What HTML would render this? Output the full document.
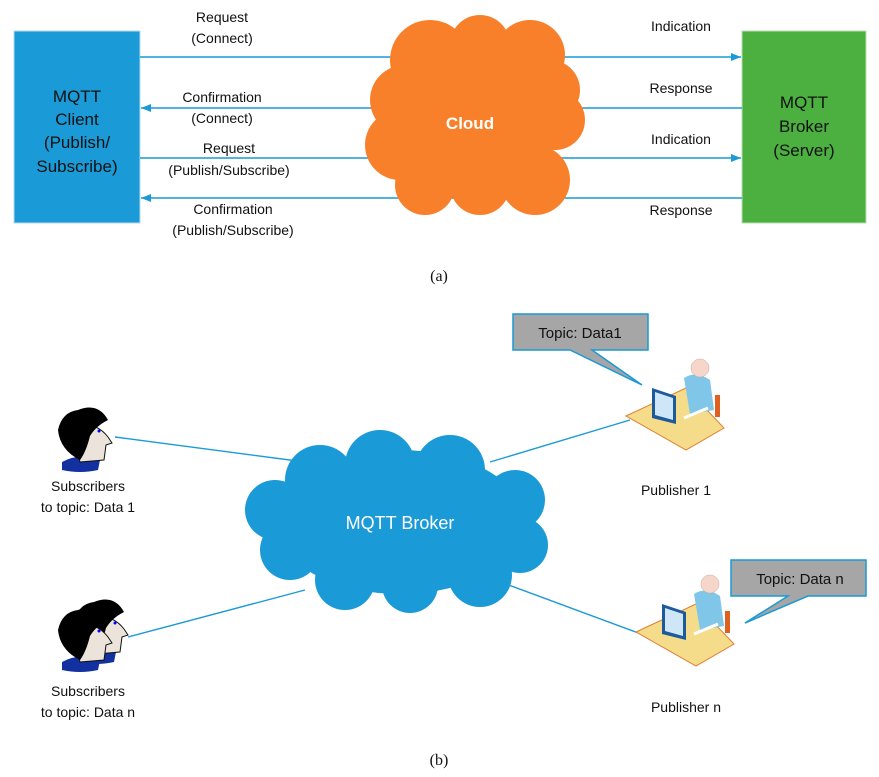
<!DOCTYPE html>
<html><head><meta charset="utf-8"><style>
html,body{margin:0;padding:0;background:#fff}
svg{display:block}
text{font-family:"Liberation Sans",sans-serif;font-size:14px;fill:#111}
</style></head><body>
<svg width="879" height="777" viewBox="0 0 879 777" xmlns="http://www.w3.org/2000/svg">
<defs>
<marker id="ah" markerWidth="10" markerHeight="8" refX="10" refY="4" orient="auto" markerUnits="userSpaceOnUse">
<path d="M0,0 L10,4 L0,8 Z" fill="#1a9ad6"/></marker>
</defs>
<!-- (a) -->
<rect x="14" y="31" width="126" height="192" fill="#1a9ad6" stroke="#b8d8ea" stroke-width="1"/>
<rect x="742" y="31" width="124" height="192" fill="#4cb040" stroke="#b8dcb0" stroke-width="1"/>
<g stroke="#1a9ad6" stroke-width="1.6" fill="none">
<line x1="140" y1="57" x2="741" y2="57" marker-end="url(#ah)"/>
<line x1="742" y1="108" x2="141" y2="108" marker-end="url(#ah)"/>
<line x1="140" y1="158" x2="741" y2="158" marker-end="url(#ah)"/>
<line x1="742" y1="198" x2="141" y2="198" marker-end="url(#ah)"/>
</g>
<g fill="#f8802a">
<ellipse cx="475" cy="115" rx="85" ry="85"/>
<circle cx="430" cy="60" r="40"/><circle cx="480" cy="45" r="30"/><circle cx="530" cy="55" r="35"/>
<circle cx="405" cy="100" r="35"/><circle cx="400" cy="145" r="35"/><circle cx="425" cy="185" r="30"/>
<circle cx="480" cy="185" r="30"/><circle cx="535" cy="180" r="35"/><circle cx="555" cy="120" r="30"/>
<circle cx="550" cy="90" r="30"/>
</g>
<text x="470" y="129" text-anchor="middle" style="fill:#fff;font-size:17px;font-weight:bold">Cloud</text>
<g text-anchor="middle" style="fill:#111;font-size:17px">
<text x="77" y="102" style="font-size:17px">MQTT</text>
<text x="77" y="125" style="font-size:17px">Client</text>
<text x="77" y="148" style="font-size:17px">(Publish/</text>
<text x="77" y="172" style="font-size:17px">Subscribe)</text>
<text x="804" y="108" style="font-size:17px">MQTT</text>
<text x="804" y="132" style="font-size:17px">Broker</text>
<text x="804" y="156" style="font-size:17px">(Server)</text>
</g>
<g text-anchor="middle">
<text x="222" y="22">Request</text><text x="222" y="43">(Connect)</text>
<text x="222" y="102">Confirmation</text><text x="222" y="123">(Connect)</text>
<text x="229" y="153">Request</text><text x="229" y="175">(Publish/Subscribe)</text>
<text x="233" y="214">Confirmation</text><text x="233" y="235">(Publish/Subscribe)</text>
<text x="681" y="31">Indication</text><text x="681" y="93">Response</text>
<text x="681" y="144">Indication</text><text x="681" y="215">Response</text>
</g>
<text x="439" y="281" text-anchor="middle" style="font-family:'Liberation Serif',serif;font-size:16px">(a)</text>
<!-- (b) -->
<g stroke="#1a9ad6" stroke-width="1.4">
<line x1="115" y1="437" x2="305" y2="462"/>
<line x1="128" y1="637" x2="305" y2="590"/>
<line x1="490" y1="462" x2="630" y2="420"/>
<line x1="495" y1="580" x2="660" y2="641"/>
</g>
<g fill="#1a9ad6">
<ellipse cx="400" cy="522" rx="125" ry="72"/>
<circle cx="320" cy="480" r="35"/><circle cx="380" cy="465" r="35"/><circle cx="450" cy="470" r="35"/>
<circle cx="275" cy="510" r="30"/><circle cx="290" cy="550" r="30"/><circle cx="345" cy="580" r="30"/>
<circle cx="410" cy="585" r="28"/><circle cx="480" cy="575" r="32"/><circle cx="520" cy="545" r="28"/>
<circle cx="515" cy="500" r="30"/>
</g>
<text x="400" y="529" text-anchor="middle" style="fill:#fff;font-size:18px">MQTT Broker</text>
<!-- callouts -->
<path d="M513,314 H648 V350 H592 L642,385 L570,350 H513 Z" fill="#a6a6a6" stroke="#1a9ad6" stroke-width="1.5"/>
<text x="580" y="338" text-anchor="middle" style="font-size:15px">Topic: Data1</text>
<path d="M731,560 H866 V596 H808 L745,623 L788,596 H731 Z" fill="#a6a6a6" stroke="#1a9ad6" stroke-width="1.5"/>
<text x="800" y="584" text-anchor="middle" style="font-size:15px">Topic: Data n</text>
<!-- publishers -->
<g id="pub">
<path d="M626,416 L686,388 L724,428 L686,450 Z" fill="#f5dc8a" stroke="#e08030" stroke-width="1"/>
<rect x="715" y="395" width="5" height="22" fill="#e06020"/>
<path d="M684,378 Q696,370 710,380 L714,410 L690,414 Z" fill="#7fc6e8"/>
<circle cx="700" cy="368" r="9" fill="#f6d6c8" stroke="#caa" stroke-width="0.5"/>
<path d="M652,388 L676,396 L676,424 L652,418 Z" fill="#1c5a9c"/>
<path d="M655,392 L673,398 L673,420 L655,415 Z" fill="#cfe6f8"/>
<line x1="684" y1="418" x2="708" y2="408" stroke="#fff" stroke-width="3"/>
</g>
<use href="#pub" x="10" y="216"/>
<text x="676" y="495" text-anchor="middle">Publisher 1</text>
<text x="686" y="712" text-anchor="middle">Publisher n</text>
<!-- subscribers -->
<g id="sub">
<path d="M62,462 Q80,452 100,460 L98,470 Q80,474 62,470 Z" fill="#1230a0"/>
<path d="M70,425 Q95,420 108,437 L112,443 L106,445 L104,460 L80,462 Z" fill="#ece4da" stroke="#111" stroke-width="1"/>
<path d="M78,410 Q98,402 108,420 Q96,426 90,436 Q86,452 80,460 Q60,450 58,430 Q62,412 78,410 Z" fill="#000"/>
<circle cx="99" cy="431" r="1.5" fill="#00f"/>
</g>
<text x="88" y="491" text-anchor="middle">Subscribers</text>
<text x="88" y="512" text-anchor="middle">to topic: Data 1</text>
<use href="#sub" x="16" y="192"/>
<use href="#sub" x="0" y="200"/>
<text x="88" y="696" text-anchor="middle">Subscribers</text>
<text x="88" y="717" text-anchor="middle">to topic: Data n</text>
<text x="439" y="765" text-anchor="middle" style="font-family:'Liberation Serif',serif;font-size:16px">(b)</text>
</svg>
</body></html>
